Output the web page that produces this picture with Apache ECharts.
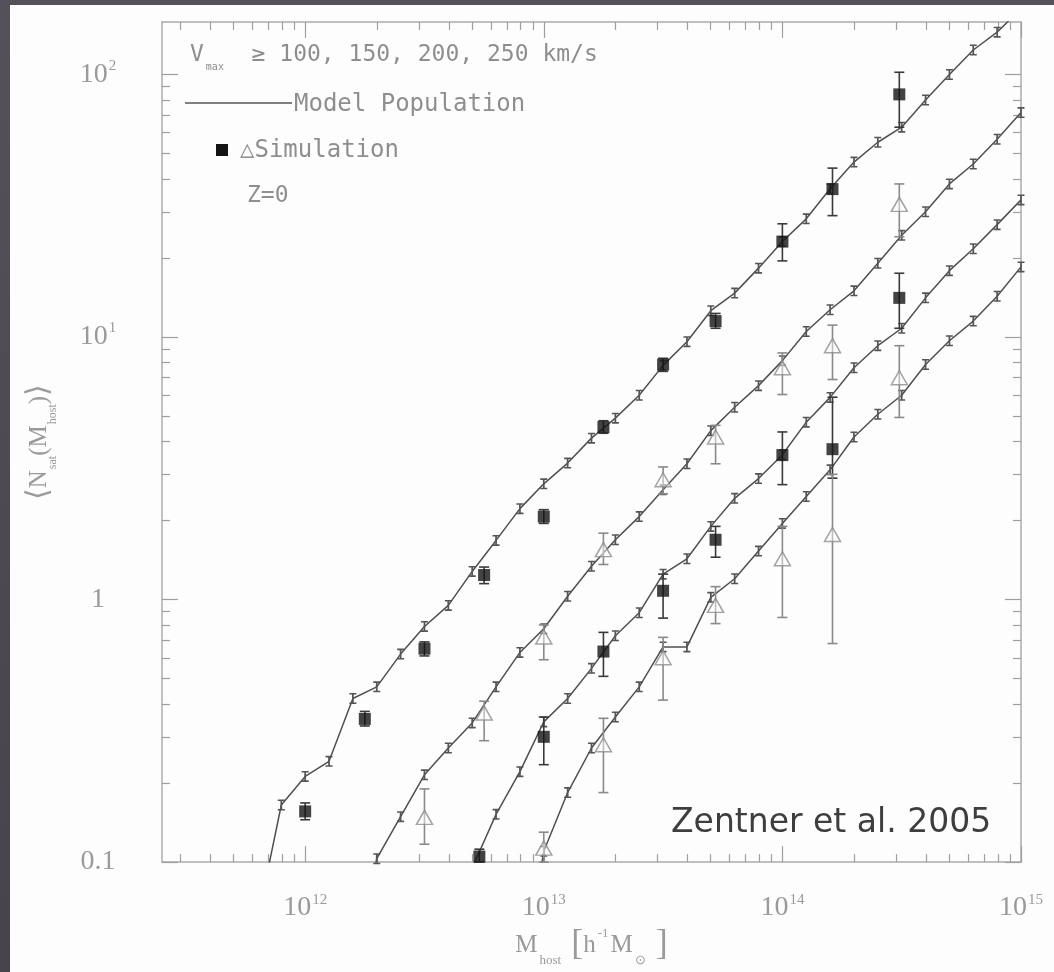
<!DOCTYPE html>
<html>
<head>
<meta charset="utf-8">
<title>Nsat vs Mhost</title>
<script src="https://cdn.jsdelivr.net/npm/echarts@6/dist/echarts.min.js"></script>
<style>
  html, body { margin: 0; padding: 0; }
  body { width: 1054px; height: 972px; overflow: hidden; position: relative;
         background: linear-gradient(180deg, #55515b 0%, #47434d 100%); }
  #main { position: absolute; left: 10px; top: 5px; width: 1044px; height: 967px; background: #fdfdfd; }
</style>
</head>
<body>
<div id="main"></div>
<script>
// 模型曲线: log10(M_host) 网格 和 <N_sat>, 每条对应一个 Vmax 阈值
var model100LogM = [11.8, 11.9, 12.0, 12.1, 12.2, 12.3, 12.4, 12.5, 12.6, 12.7, 12.8, 12.9, 13.0, 13.1, 13.2, 13.3, 13.4,
                    13.5, 13.6, 13.7, 13.8, 13.9, 14.0, 14.1, 14.2, 14.3, 14.4, 14.5, 14.6, 14.7, 14.8, 14.9, 15.0];
var model100N = [0.06, 0.165, 0.212, 0.242, 0.42, 0.465, 0.62, 0.79, 0.95, 1.28, 1.68, 2.22, 2.76, 3.31, 4.12, 4.91, 6.0,
                 7.8, 9.6, 12.6, 14.7, 18.3, 23.1, 28.2, 36.7, 46.4, 55.2, 63, 80, 100, 124, 145, 178];

var model150LogM = [12.2, 12.3, 12.4, 12.5, 12.6, 12.7, 12.8, 12.9, 13.0, 13.1, 13.2, 13.3, 13.4, 13.5, 13.6,
                    13.7, 13.8, 13.9, 14.0, 14.1, 14.2, 14.3, 14.4, 14.5, 14.6, 14.7, 14.8, 14.9, 15.0];
var model150N = [0.04, 0.103, 0.149, 0.215, 0.272, 0.339, 0.465, 0.629, 0.774, 1.03, 1.34, 1.69, 2.07, 2.62, 3.29,
                 4.4, 5.4, 6.53, 8.13, 10.5, 12.7, 15.0, 19.1, 24.4, 30.0, 38.3, 45.6, 56.7, 71.6];

var model200LogM = [12.6, 12.7, 12.8, 12.9, 13.0, 13.1, 13.2, 13.3, 13.4, 13.5, 13.6, 13.7, 13.8,
                    13.9, 14.0, 14.1, 14.2, 14.3, 14.4, 14.5, 14.6, 14.7, 14.8, 14.9, 15.0];
var model200N = [0.04, 0.095, 0.152, 0.221, 0.342, 0.42, 0.547, 0.728, 0.891, 1.25, 1.43, 1.9, 2.43,
                 2.89, 3.56, 4.74, 5.89, 7.64, 9.27, 10.8, 14.1, 17.9, 21.7, 26.8, 33.3];

var model250LogM = [12.9, 13.0, 13.1, 13.2, 13.3, 13.4, 13.5, 13.6, 13.7, 13.8, 13.9, 14.0,
                    14.1, 14.2, 14.3, 14.4, 14.5, 14.6, 14.7, 14.8, 14.9, 15.0];
var model250N = [0.03, 0.11, 0.184, 0.272, 0.357, 0.465, 0.66, 0.66, 1.02, 1.2, 1.53, 1.95,
                 2.47, 3.12, 4.16, 5.08, 6.0, 7.86, 9.68, 11.5, 14.3, 18.5];

// 模拟结果 (实心方块: 100, 200 km/s; 空心三角: 150, 250 km/s)
var sim100LogM = [12.0, 12.25, 12.5, 12.75, 13.0, 13.25, 13.5, 13.72, 14.0, 14.21, 14.49];
var sim100N  = [0.156, 0.351, 0.65, 1.24, 2.07, 4.54, 7.85, 11.5, 23.1, 36.6, 84];
var sim100Lo = [0.145, 0.33, 0.61, 1.15, 1.95, 4.3, 7.4, 10.8, 19.5, 29, 63];
var sim100Hi = [0.168, 0.375, 0.69, 1.33, 2.2, 4.8, 8.3, 12.3, 27, 44, 102];

var sim150LogM = [12.5, 12.75, 13.0, 13.25, 13.5, 13.72, 14.0, 14.21, 14.49];
var sim150N  = [0.148, 0.37, 0.72, 1.55, 2.86, 4.16, 7.64, 9.27, 32];
var sim150Lo = [0.117, 0.29, 0.59, 1.36, 2.53, 3.29, 6.04, 6.89, 24.1];
var sim150Hi = [0.19, 0.41, 0.80, 1.79, 3.2, 4.61, 8.7, 11.1, 38.3];

var sim200LogM = [12.73, 13.0, 13.25, 13.5, 13.72, 14.0, 14.21, 14.49];
var sim200N  = [0.105, 0.30, 0.634, 1.08, 1.69, 3.55, 3.74, 14.1];
var sim200Lo = [0.1, 0.235, 0.51, 0.85, 1.45, 2.74, 2.9, 10.8];
var sim200Hi = [0.112, 0.357, 0.75, 1.25, 1.9, 4.35, 5.9, 17.5];

var sim250LogM = [13.0, 13.25, 13.5, 13.72, 14.0, 14.21, 14.49];
var sim250N  = [0.113, 0.28, 0.6, 0.95, 1.43, 1.77, 7.0];
var sim250Lo = [0.1, 0.184, 0.414, 0.81, 0.855, 0.68, 4.94];
var sim250Hi = [0.13, 0.353, 0.718, 1.12, 1.9, 3.0, 9.27];

// 刻度标签
var xTickValues = [1e12, 1e13, 1e14, 9.9999e14];
var xTickBase = ['10', '10', '10', '10'];
var xTickExp = ['12', '13', '14', '15'];
var yTickValues = [0.1, 1, 10, 100];
var yTickBase = ['0.1', '1', '10', '10'];
var yTickExp = ['', '', '1', '2'];

(function () {
  var chart = echarts.init(document.getElementById('main'));

  var X_MIN = Math.pow(10, 11.4), X_MAX = 1e15;
  var Y_MIN = 0.1, Y_MAX = Math.pow(10, 2.2);
  var frameColor = '#ababab';
  var tickColor = '#9e9e9e';
  var labelColor = '#9a9a9a';
  var lineColor = '#4f4f4f';
  var serif = 'Liberation Serif';
  var mono = 'DejaVu Sans Mono';

  // 对数次刻度 2..9 x 10^n
  function minorTicks(lo, hi) {
    var out = [];
    for (var e = Math.floor(lo); e < Math.ceil(hi); e++) {
      for (var k = 2; k < 10; k++) {
        var v = k * Math.pow(10, e);
        var lv = Math.log10(v);
        if (lv > lo && lv < hi) out.push(v);
      }
    }
    return out;
  }

  function pairs(logM, n) {
    return logM.map(function (lm, i) { return [Math.pow(10, lm), n[i]]; });
  }
  function bars(logM, lo, hi) {
    return logM.map(function (lm, i) { return [Math.pow(10, lm), lo[i], hi[i]]; });
  }

  var tickRich = {
    b: { fontFamily: serif, fontSize: 28, color: labelColor, lineHeight: 32 },
    s: { fontFamily: serif, fontSize: 15, color: labelColor, lineHeight: 16, verticalAlign: 'top', padding: [0, 0, 0, 1] }
  };

  function xLabel(v) {
    var i = xTickExp.indexOf(String(Math.round(Math.log10(v))));
    return i < 0 ? '' : '{b|' + xTickBase[i] + '}{s|' + xTickExp[i] + '}';
  }
  function yLabel(v) {
    var lv = Math.round(Math.log10(v));
    for (var i = 0; i < yTickValues.length; i++) {
      if (Math.round(Math.log10(yTickValues[i])) === lv) {
        return '{b|' + yTickBase[i] + '}' + (yTickExp[i] ? '{s|' + yTickExp[i] + '}' : '');
      }
    }
    return '';
  }

  function axis(pos, min, max, ticks, len, main, label) {
    return {
      type: 'log',
      logBase: 10,
      position: pos,
      min: min,
      max: max,
      axisLine: { show: main, onZero: false, lineStyle: { color: frameColor, width: 1.5 } },
      axisTick: { show: true, inside: true, length: len, customValues: ticks,
                  lineStyle: { color: tickColor, width: 1.2 } },
      axisLabel: label ? label : { show: false },
      splitLine: { show: false },
      minorTick: { show: false }
    };
  }

  var xMinor = minorTicks(11.4, 15);
  var yMinor = minorTicks(-1, 2.2);

  var xAxes = [
    axis('bottom', X_MIN, X_MAX, xTickValues, 16, true, {
      show: true, customValues: xTickValues, margin: 30, formatter: xLabel, rich: tickRich
    }),
    axis('top', X_MIN, X_MAX, xTickValues, 16, true, null),
    axis('bottom', X_MIN, X_MAX, xMinor, 8, false, null),
    axis('top', X_MIN, X_MAX, xMinor, 8, false, null)
  ];
  xAxes[0].name = '{m|M}{sb|host}   {br|[}{m|h}{sp|-1}{m|M}{sb|\u2299}   {br|]}';
  xAxes[0].nameLocation = 'middle';
  xAxes[0].nameGap = 54;
  xAxes[0].nameTextStyle = {
    rich: {
      m: { fontFamily: serif, fontSize: 25, color: labelColor, lineHeight: 36 },
      sb: { fontFamily: serif, fontSize: 13, color: labelColor, lineHeight: 36, verticalAlign: 'bottom', padding: [0, 0, -4, 2] },
      sp: { fontFamily: serif, fontSize: 13, color: labelColor, lineHeight: 14, verticalAlign: 'top', padding: [0, 2, 0, 2] },
      br: { fontFamily: serif, fontSize: 36, color: labelColor, lineHeight: 36 }
    }
  };

  var yAxes = [
    axis('left', Y_MIN, Y_MAX, yTickValues, 16, true, {
      show: true, customValues: yTickValues, margin: 64, align: 'center', formatter: yLabel, rich: tickRich
    }),
    axis('right', Y_MIN, Y_MAX, yTickValues, 16, true, null),
    axis('left', Y_MIN, Y_MAX, yMinor, 8, false, null),
    axis('right', Y_MIN, Y_MAX, yMinor, 8, false, null)
  ];
  yAxes[0].name = '{a|\u27E8}{m|N}{sb|sat}{m|(M}{sb|host}{m|)}{a|\u27E9}';
  yAxes[0].nameLocation = 'middle';
  yAxes[0].nameGap = 106;
  yAxes[0].nameTextStyle = {
    rich: {
      a: { fontFamily: serif, fontSize: 30, color: labelColor, lineHeight: 34 },
      m: { fontFamily: serif, fontSize: 25, color: labelColor, lineHeight: 34 },
      sb: { fontFamily: serif, fontSize: 12, color: labelColor, lineHeight: 34, verticalAlign: 'bottom', padding: [0, 0, -3, 1] }
    }
  };

  // 模型点上的小误差棒 (工字形)
  var ibeam = 'path://M0,0L8,0L8,2L5,2L5,12L8,12L8,14L0,14L0,12L3,12L3,2L0,2Z';

  function modelSeries(name, logM, n) {
    return {
      name: name,
      type: 'line',
      xAxisIndex: 0,
      yAxisIndex: 0,
      data: pairs(logM, n),
      symbol: ibeam,
      symbolSize: [7, 11],
      showSymbol: true,
      showAllSymbol: true,
      clip: true,
      lineStyle: { color: lineColor, width: 1.5 },
      itemStyle: { color: '#555' },
      z: 2
    };
  }

  function errSeries(name, data, color) {
    return {
      name: name,
      type: 'custom',
      xAxisIndex: 0,
      yAxisIndex: 0,
      data: data,
      encode: { x: 0, y: [1, 2] },
      renderItem: function (params, api) {
        var x = api.value(0);
        var top = api.coord([x, api.value(2)]);
        var bot = api.coord([x, api.value(1)]);
        var hw = 5;
        var st = { stroke: color, lineWidth: 1.6 };
        return {
          type: 'group',
          children: [
            { type: 'line', shape: { x1: top[0], y1: top[1], x2: bot[0], y2: bot[1] }, style: st },
            { type: 'line', shape: { x1: top[0] - hw, y1: top[1], x2: top[0] + hw, y2: top[1] }, style: st },
            { type: 'line', shape: { x1: bot[0] - hw, y1: bot[1], x2: bot[0] + hw, y2: bot[1] }, style: st }
          ]
        };
      },
      z: 3
    };
  }

  function squareSeries(name, logM, n) {
    return {
      name: name, type: 'scatter', xAxisIndex: 0, yAxisIndex: 0,
      data: pairs(logM, n), symbol: 'rect', symbolSize: 12,
      itemStyle: { color: '#141414' }, z: 4
    };
  }
  function triangleSeries(name, logM, n) {
    return {
      name: name, type: 'scatter', xAxisIndex: 0, yAxisIndex: 0,
      data: pairs(logM, n), symbol: 'triangle', symbolSize: [16, 14],
      itemStyle: { color: 'rgba(255,255,255,0.55)', borderColor: '#8c8c8c', borderWidth: 1.5 }, z: 4
    };
  }

  var option = {
    animation: false,
    backgroundColor: '#fdfdfd',
    grid: { left: 152, top: 17, right: 33, bottom: 104, containLabel: false },
    xAxis: xAxes,
    yAxis: yAxes,
    series: [
      modelSeries('Model 100', model100LogM, model100N),
      modelSeries('Model 150', model150LogM, model150N),
      modelSeries('Model 200', model200LogM, model200N),
      modelSeries('Model 250', model250LogM, model250N),
      errSeries('Err 100', bars(sim100LogM, sim100Lo, sim100Hi), '#3a3a3a'),
      errSeries('Err 150', bars(sim150LogM, sim150Lo, sim150Hi), '#8a8a8a'),
      errSeries('Err 200', bars(sim200LogM, sim200Lo, sim200Hi), '#3a3a3a'),
      errSeries('Err 250', bars(sim250LogM, sim250Lo, sim250Hi), '#8a8a8a'),
      squareSeries('Sim 100', sim100LogM, sim100N),
      triangleSeries('Sim 150', sim150LogM, sim150N),
      squareSeries('Sim 200', sim200LogM, sim200N),
      triangleSeries('Sim 250', sim250LogM, sim250N)
    ],
    // 图内说明文字
    graphic: [
      {
        type: 'text', x: 180, y: 50, z: 10,
        style: {
          text: '{v|V}{s|max}{t|  \u2265 100, 150, 200, 250 km/s}',
          verticalAlign: 'middle',
          rich: {
            v: { fontFamily: mono, fontSize: 23, fill: '#8e8e8e', lineHeight: 26 },
            s: { fontFamily: mono, fontSize: 10, fill: '#8e8e8e', lineHeight: 26, verticalAlign: 'bottom', padding: [0, 0, -4, 2] },
            t: { fontFamily: mono, fontSize: 23, fill: '#8e8e8e', lineHeight: 26 }
          }
        }
      },
      {
        type: 'line', z: 10,
        shape: { x1: 175, y1: 98, x2: 282, y2: 98 },
        style: { stroke: '#555', lineWidth: 1.5 }
      },
      {
        type: 'text', x: 284, y: 100, z: 10,
        style: { text: 'Model Population', fontFamily: mono, fontSize: 24, fill: '#8e8e8e', verticalAlign: 'middle' }
      },
      {
        type: 'rect', z: 10,
        shape: { x: 206, y: 139, width: 12, height: 12 },
        style: { fill: '#141414' }
      },
      {
        type: 'text', x: 230, y: 146, z: 10,
        style: { text: '\u25B3Simulation', fontFamily: mono, fontSize: 24, fill: '#8e8e8e', verticalAlign: 'middle' }
      },
      {
        type: 'text', x: 237, y: 191, z: 10,
        style: { text: 'Z=0', fontFamily: mono, fontSize: 23, fill: '#8e8e8e', verticalAlign: 'middle' }
      },
      {
        type: 'text', x: 661, y: 818, z: 10,
        style: { text: 'Zentner et al. 2005', fontFamily: 'DejaVu Sans', fontSize: 33, fill: '#3e3e3e', verticalAlign: 'middle' }
      }
    ]
  };

  chart.setOption(option);
  window.addEventListener('resize', function () {
    chart.resize();
  });
})();
</script>
</body>
</html>
